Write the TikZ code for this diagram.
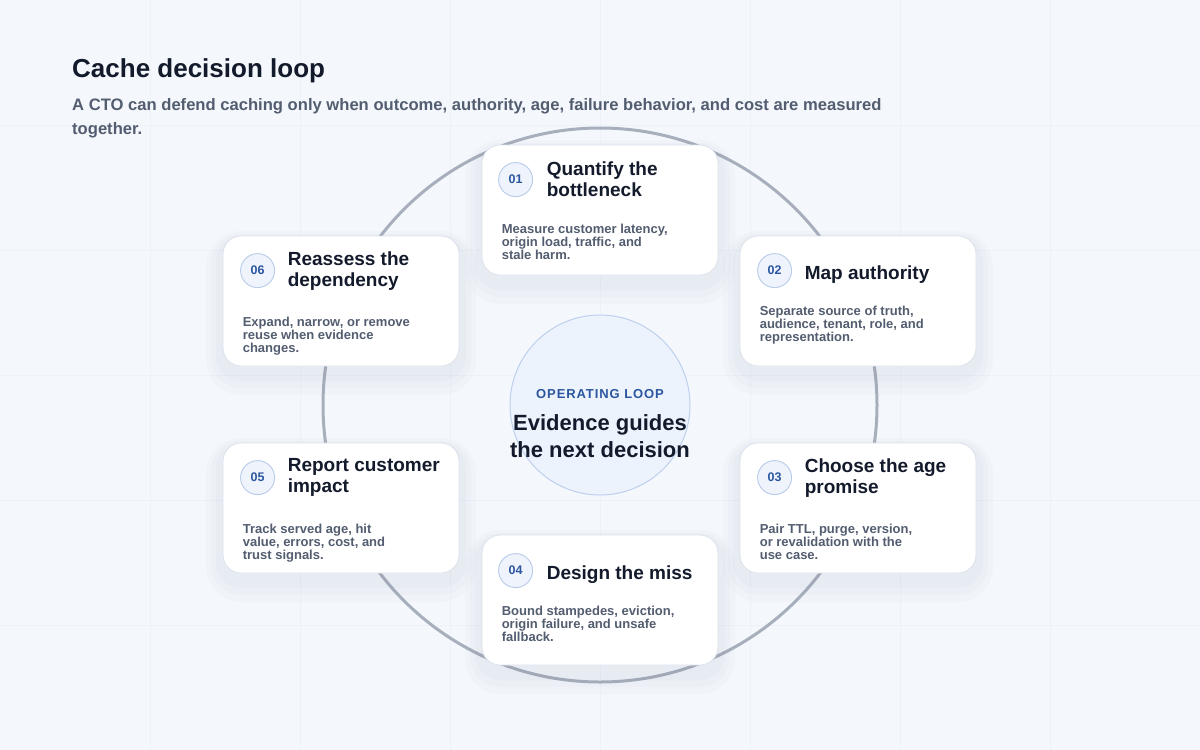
\documentclass[tikz,border=0pt]{standalone}
\usepackage{fontspec}
\setmainfont{Liberation Sans}
\usetikzlibrary{calc}
\definecolor{paper}{HTML}{F4F7FC}
\definecolor{gridtone}{HTML}{EDF1F8}
\definecolor{ringtone}{HTML}{A8AFBC}
\definecolor{cardedge}{HTML}{DCE2EC}
\definecolor{shadetone}{HTML}{5A6A8C}
\definecolor{badgefill}{HTML}{EEF3FC}
\definecolor{badgeedge}{HTML}{B9CBEA}
\definecolor{badgeink}{HTML}{2C56A0}
\definecolor{inkdark}{HTML}{131A2B}
\definecolor{inkgray}{HTML}{535D70}
\definecolor{hubfill}{HTML}{EDF3FD}
\definecolor{hubedge}{HTML}{BDD0EE}
\begin{document}
\begin{tikzpicture}[x=1pt,y=-1pt,line join=round,line cap=round,
	card/.style={draw=cardedge,line width=0.8pt,fill=white,rounded corners=18pt,
		minimum width=236pt,minimum height=130pt,
		preaction={draw=shadetone,draw opacity=0.018,line width=34pt,transform canvas={yshift=-12pt}},
		preaction={draw=shadetone,draw opacity=0.025,line width=24pt,transform canvas={yshift=-10pt}},
		preaction={draw=shadetone,draw opacity=0.03,line width=14pt,transform canvas={yshift=-8pt}}},
	badge/.style={circle,draw=badgeedge,line width=0.9pt,fill=badgefill,minimum size=34pt,inner sep=0pt,
		text=badgeink,font=\bfseries\fontsize{12.5}{12.5}\selectfont},
	cardtitle/.style={anchor=west,align=left,inner sep=0pt,text=inkdark,font=\bfseries\fontsize{19}{21}\selectfont},
	cardbody/.style={anchor=north west,align=left,inner sep=0pt,text=inkgray,font=\bfseries\fontsize{13}{13}\selectfont}]
	\useasboundingbox (0,0) rectangle (1200,750);
	\fill [paper] (0,0) rectangle (1200,750);
	% faint background grid
	\foreach \gx in {150,300,...,1050} \draw [gridtone,line width=0.8pt] (\gx,0)--(\gx,750);
	\foreach \gy in {125,250,...,625} \draw [gridtone,line width=0.8pt] (0,\gy)--(1200,\gy);
	% heading
	\node [anchor=base west,inner sep=0pt,text=inkdark,font=\bfseries\fontsize{26}{30}\selectfont] (head) at (72,77) {Cache decision loop};
	\node [anchor=base west,inner sep=0pt,align=left,text=inkgray,font=\bfseries\fontsize{16.6}{24}\selectfont] (subhead) at (72,134)
		{A CTO can defend caching only when outcome, authority, age, failure behavior, and cost are measured\\together.};
	% hub and ring
	\coordinate (loopc) at (600,405);
	\draw [ringtone,line width=3pt] (loopc) circle (277);
	\node [circle,draw=hubedge,line width=1pt,fill=hubfill,minimum size=180pt] (hub) at (loopc) {};
	\node [anchor=base,inner sep=0pt,text=badgeink,font=\bfseries\fontsize{13}{13}\selectfont\addfontfeatures{LetterSpace=7}] (hubtag) at (600,398) {OPERATING LOOP};
	\node [anchor=base,inner sep=0pt,align=center,text=inkdark,font=\bfseries\fontsize{22}{27}\selectfont] (hubtext) at (600,457) {Evidence guides\\the next decision};
	% 01
	\node [card] (c1) at (600,210) {};
	\node [badge] (b1) at ($(c1.north west)+(34,35)$) {01};
	\node [cardtitle] (t1) at ($(c1.north west)+(65,35)$) {Quantify the\\bottleneck};
	\node [cardbody] (d1) at ($(t1.south -| c1.west)+(20,27)$) {Measure customer latency,\\origin load, traffic, and\\stale harm.};
	% 02
	\node [card] (c2) at (858,301) {};
	\node [badge] (b2) at ($(c2.north west)+(35,35)$) {02};
	\node [cardtitle] (t2) at ($(c2.north west)+(65,39)$) {Map authority};
	\node [cardbody] (d2) at ($(t2.south -| c2.west)+(20,22)$) {Separate source of truth,\\audience, tenant, role, and\\representation.};
	% 03
	\node [card] (c3) at (858,508) {};
	\node [badge] (b3) at ($(c3.north west)+(35,35)$) {03};
	\node [cardtitle] (t3) at ($(c3.north west)+(65,35)$) {Choose the age\\promise};
	\node [cardbody] (d3) at ($(t3.south -| c3.west)+(20,27)$) {Pair TTL, purge, version,\\or revalidation with the\\use case.};
	% 04
	\node [card] (c4) at (600,600) {};
	\node [badge] (b4) at ($(c4.north west)+(34,36)$) {04};
	\node [cardtitle] (t4) at ($(c4.north west)+(65,40)$) {Design the miss};
	\node [cardbody] (d4) at ($(t4.south -| c4.west)+(20,22)$) {Bound stampedes, eviction,\\origin failure, and unsafe\\fallback.};
	% 05
	\node [card] (c5) at (341,508) {};
	\node [badge] (b5) at ($(c5.north west)+(35,35)$) {05};
	\node [cardtitle] (t5) at ($(c5.north west)+(65,35)$) {Report customer\\impact};
	\node [cardbody] (d5) at ($(t5.south -| c5.west)+(20,27)$) {Track served age, hit\\value, errors, cost, and\\trust signals.};
	% 06
	\node [card] (c6) at (341,301) {};
	\node [badge] (b6) at ($(c6.north west)+(35,35)$) {06};
	\node [cardtitle] (t6) at ($(c6.north west)+(65,35)$) {Reassess the\\dependency};
	\node [cardbody] (d6) at ($(t6.south -| c6.west)+(20,27)$) {Expand, narrow, or remove\\reuse when evidence\\changes.};
\end{tikzpicture}
\end{document}
